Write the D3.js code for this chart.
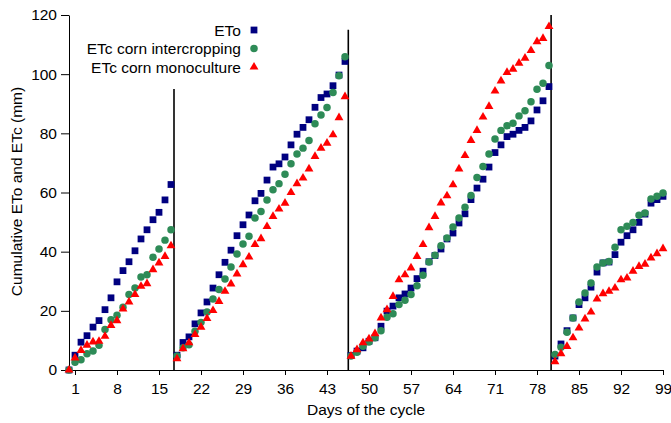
<!DOCTYPE html>
<html>
<head>
<meta charset="utf-8">
<script src="https://cdn.jsdelivr.net/npm/d3@7"></script>
<style>
  body { margin: 0; background: #fff; }
  text { font-family: "Liberation Sans", Arial, sans-serif; }
  .axis path, .axis line { stroke: #000; stroke-width: 1; }
  .axis text { font-size: 15.5px; fill: #000; }
</style>
</head>
<body>
<svg id="vis-svg" width="671" height="423"></svg>
<script>

// Data: day of the cycle and cumulative values (mm)
var days = [0,1,2,3,4,5,6,7,8,9,10,11,12,13,14,15,16,17,18,19,20,21,22,23,24,25,26,27,28,29,
  30,31,32,33,34,35,36,37,38,39,40,41,42,43,44,45,46,47,48,49,50,51,52,53,54,55,56,57,58,59,
  60,61,62,63,64,65,66,67,68,69,70,71,72,73,74,75,76,77,78,79,80,81,82,83,84,85,86,87,88,89,
  90,91,92,93,94,95,96,97,98,99];

var eto = [0,5.0,9.4,11.6,14.5,16.7,20.4,24.4,29.8,33.6,36.6,40.3,44.3,47.4,50.8,53.3,57.5,62.7,
  5.0,9.3,11.2,15.6,19.3,23.0,27.7,32.2,36.4,40.5,45.4,49.1,52.4,57.2,59.7,64.2,68.6,69.7,72.0,
  76.1,79.7,82.0,84.6,88.8,92.1,93.3,96.1,99.7,104.3,
  4.9,6.4,7.5,9.7,10.9,14.8,19.9,21.6,24.4,25.7,27.7,30.9,33.4,36.6,38.7,40.9,44.3,46.3,49.7,
  52.8,57.6,61.5,64.5,68.6,73.5,76.1,78.9,79.7,81.0,82.0,84.2,87.9,91.0,95.8,
  4.7,8.8,13.3,17.6,22.1,24.4,28.0,33.1,36.2,36.5,39.0,43.2,45.4,47.4,49.9,52.7,56.4,57.6,58.7];

var etcIntercrop = [0,2.6,3.5,5.5,6.4,8.4,13.7,17.0,18.5,21.2,25.5,27.7,31.4,32.2,38.1,40.9,43.9,47.4,
  4.7,7.5,8.5,13.1,16.1,19.6,24.0,27.2,30.8,34.8,39.2,42.6,45.2,51.4,53.6,57.5,60.9,63.0,66.2,
  69.7,73.0,75.0,77.6,83.2,86.2,88.7,93.8,99.5,105.9,
  4.7,6.0,8.0,9.5,10.9,13.3,17.8,19.0,22.1,23.6,25.5,28.5,32.0,36.5,38.8,42.0,44.6,48.3,51.4,
  55.0,59.0,65.1,68.8,73.0,78.1,81.0,82.6,83.4,85.9,87.6,90.7,94.9,96.9,102.9,
  5.2,7.7,12.8,17.6,23.0,26.0,29.4,34.8,36.2,36.7,41.5,47.4,48.6,49.9,52.3,53.1,57.8,58.7,59.8];

var etcMono = [0,4.1,6.6,8.4,9.5,9.7,11.4,15.1,16.7,20.6,23.0,25.5,28.3,29.2,33.9,36.2,38.4,42.0,
  3.8,7.2,9.2,12.0,14.5,17.4,20.1,23.2,26.6,29.1,32.5,35.6,38.2,42.4,44.4,48.5,51.9,54.4,56.4,
  60.0,63.0,64.9,68.0,72.2,75.0,76.7,79.5,85.3,92.4,
  4.7,6.9,9.2,10.5,12.3,17.6,20.4,24.9,30.5,32.2,34.5,38.4,42.4,48.1,51.9,56.5,58.9,62.6,68.0,
  72.5,77.6,81.0,85.5,89.1,94.3,97.7,100.6,101.7,103.7,105.4,108.0,111.0,112.1,116.1,
  2.8,5.5,8.0,10.9,14.2,17.3,19.6,24.0,25.8,26.6,27.7,30.5,31.1,33.4,35.0,35.8,37.9,39.3,41.0];

var seriesNames = ['ETo', 'ETc corn intercropping', 'ETc corn monoculture'];
var xTicks = [1,8,15,22,29,36,43,50,57,64,71,78,85,92,99];
var yTicks = [0,20,40,60,80,100,120];

// Phase dividers: day position and top value
var dividerDays = [17.5, 46.55, 80.35];
var dividerTops = [95, 115, 120];

function drawChart() {

var margin = { top: 15, right: 8, bottom: 53, left: 69 };
var width  = 663 - margin.left;
var height = 370 - margin.top;

var svg = d3.select('#vis-svg');

var g = svg.append('g')
  .attr('transform', 'translate(' + margin.left + ',' + margin.top + ')');

// Scales
var x = d3.scaleLinear().domain([0, 99]).range([0, width]);
var y = d3.scaleLinear().domain([0, 120]).range([height, 0]);

// X Axis
g.append('g')
  .attr('class', 'x axis')
  .attr('transform', 'translate(0,' + height + ')')
  .call(d3.axisBottom(x).tickValues(xTicks).tickSizeInner(5).tickSizeOuter(0).tickPadding(8));

// Y Axis
g.append('g')
  .attr('class', 'y axis')
  .call(d3.axisLeft(y).tickValues(yTicks).tickSizeInner(8).tickSizeOuter(0).tickPadding(4));

// Axis labels
g.append('text')
  .attr('x', 297)
  .attr('y', 400)
  .style('text-anchor', 'middle')
  .style('font-size', '15.5px')
  .text('Days of the cycle');

g.append('text')
  .attr('transform', 'translate(' + (-47) + ',' + (height / 2 - 1) + ') rotate(-90)')
  .style('text-anchor', 'middle')
  .style('font-size', '15.5px')
  .text('Cumulative ETo and ETc (mm)');

// Phase divider lines
dividerDays.forEach(function(d, i) {
  g.append('line')
    .attr('x1', x(d)).attr('x2', x(d))
    .attr('y1', y(0)).attr('y2', y(dividerTops[i]))
    .attr('stroke', '#000')
    .attr('stroke-width', 1.6);
});

// Markers
var shapes = [d3.symbolSquare, d3.symbolCircle, d3.symbolTriangle];
var sizes  = [46, 44, 34];
var colors = ['#000080', '#2e8b57', '#ff0000'];
var values = [eto, etcIntercrop, etcMono];

values.forEach(function(vals, s) {
  var sym = d3.symbol().type(shapes[s]).size(sizes[s]);
  g.append('g')
    .selectAll('path')
    .data(days)
    .enter()
    .append('path')
    .attr('d', sym)
    .attr('transform', function(d, i) { return 'translate(' + x(d) + ',' + y(vals[i]) + ')'; })
    .attr('fill', colors[s]);
});

// Legend
var legend = svg.append('g');
seriesNames.forEach(function(name, i) {
  var ly = 30 + i * 18.5;
  legend.append('text')
    .attr('x', 241)
    .attr('y', ly + 5.5)
    .style('text-anchor', 'end')
    .style('font-size', '15.5px')
    .text(name);
  legend.append('path')
    .attr('d', d3.symbol().type(shapes[i]).size(sizes[i])())
    .attr('transform', 'translate(254,' + ly + ')')
    .attr('fill', colors[i]);
});

}

drawChart();
</script>
</body>
</html>
